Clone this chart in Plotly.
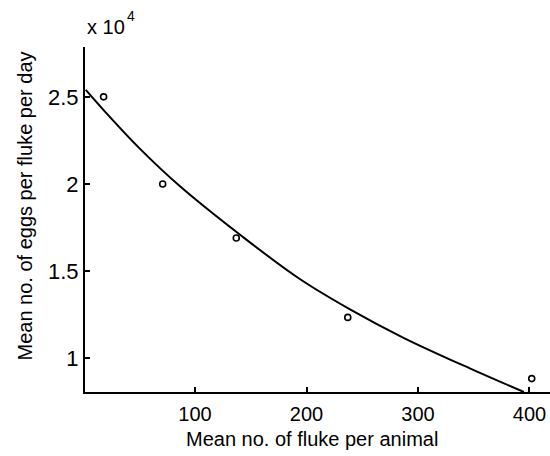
import plotly.graph_objects as go

# Observed data points
fluke_per_animal = [18, 71, 137, 237, 402]
eggs_per_fluke_day = [25000, 20000, 16900, 12350, 8840]

# Fitted curve
curve_x = [2, 20, 50, 86, 143, 194, 239, 287, 347, 395]
curve_y = [25400, 24100, 22060, 19900, 16960, 14550, 12810, 11180, 9410, 8070]

y_tick_vals = [10000, 15000, 20000, 25000]
y_tick_text = ["1", "1.5", "2", "2.5"]
x_tick_vals = [100, 200, 300, 400]

x_title = "Mean no. of fluke per animal"
y_title = "Mean no. of eggs per fluke per day"

FONT = "Liberation Sans, Arial, sans-serif"

fig = go.Figure()
fig.add_trace(go.Scatter(
    x=curve_x, y=curve_y, mode="lines",
    line=dict(color="black", width=2, shape="spline", smoothing=1.0),
    showlegend=False, hoverinfo="skip",
))
fig.add_trace(go.Scatter(
    x=fluke_per_animal, y=eggs_per_fluke_day, mode="markers",
    marker=dict(symbol="circle-open", size=6, color="black", line=dict(width=1.6, color="black")),
    showlegend=False,
))

axis_common = dict(
    showline=True, linecolor="black", linewidth=2,
    ticks="inside", ticklen=5, tickwidth=2, tickcolor="black",
    showgrid=False, zeroline=False, mirror=False,
)

fig.update_layout(
    width=550, height=456,
    margin=dict(l=85, r=0, t=47, b=64),
    paper_bgcolor="white", plot_bgcolor="white",
    font=dict(family=FONT, color="black"),
    xaxis=dict(range=[1.3, 418.4], tickvals=x_tick_vals, ticklabelstandoff=3,
               tickfont=dict(family=FONT, size=20, color="black"), **axis_common),
    yaxis=dict(range=[8070, 27860], tickvals=y_tick_vals, ticktext=y_tick_text,
               tickfont=dict(family=FONT, size=22, color="black"), **axis_common),
    annotations=[
        dict(text=x_title, xref="paper", yref="paper", x=0.489, y=-0.136,
             xanchor="center", yanchor="middle", showarrow=False,
             font=dict(family=FONT, size=20, color="black")),
        dict(text=y_title, xref="paper", yref="paper", x=-0.129, y=0.5377,
             xanchor="center", yanchor="middle", textangle=-90, showarrow=False,
             font=dict(family=FONT, size=20, color="black")),
        dict(text="x 10", xref="paper", yref="paper", x=0.0, y=1.0,
             xanchor="left", yanchor="middle", yshift=20, showarrow=False,
             font=dict(family=FONT, size=20, color="black")),
        dict(text="4", xref="paper", yref="paper", x=0.0, y=1.0,
             xanchor="left", yanchor="middle", xshift=40, yshift=31, showarrow=False,
             font=dict(family=FONT, size=14, color="black")),
    ],
)

fig.write_html("out.html")
